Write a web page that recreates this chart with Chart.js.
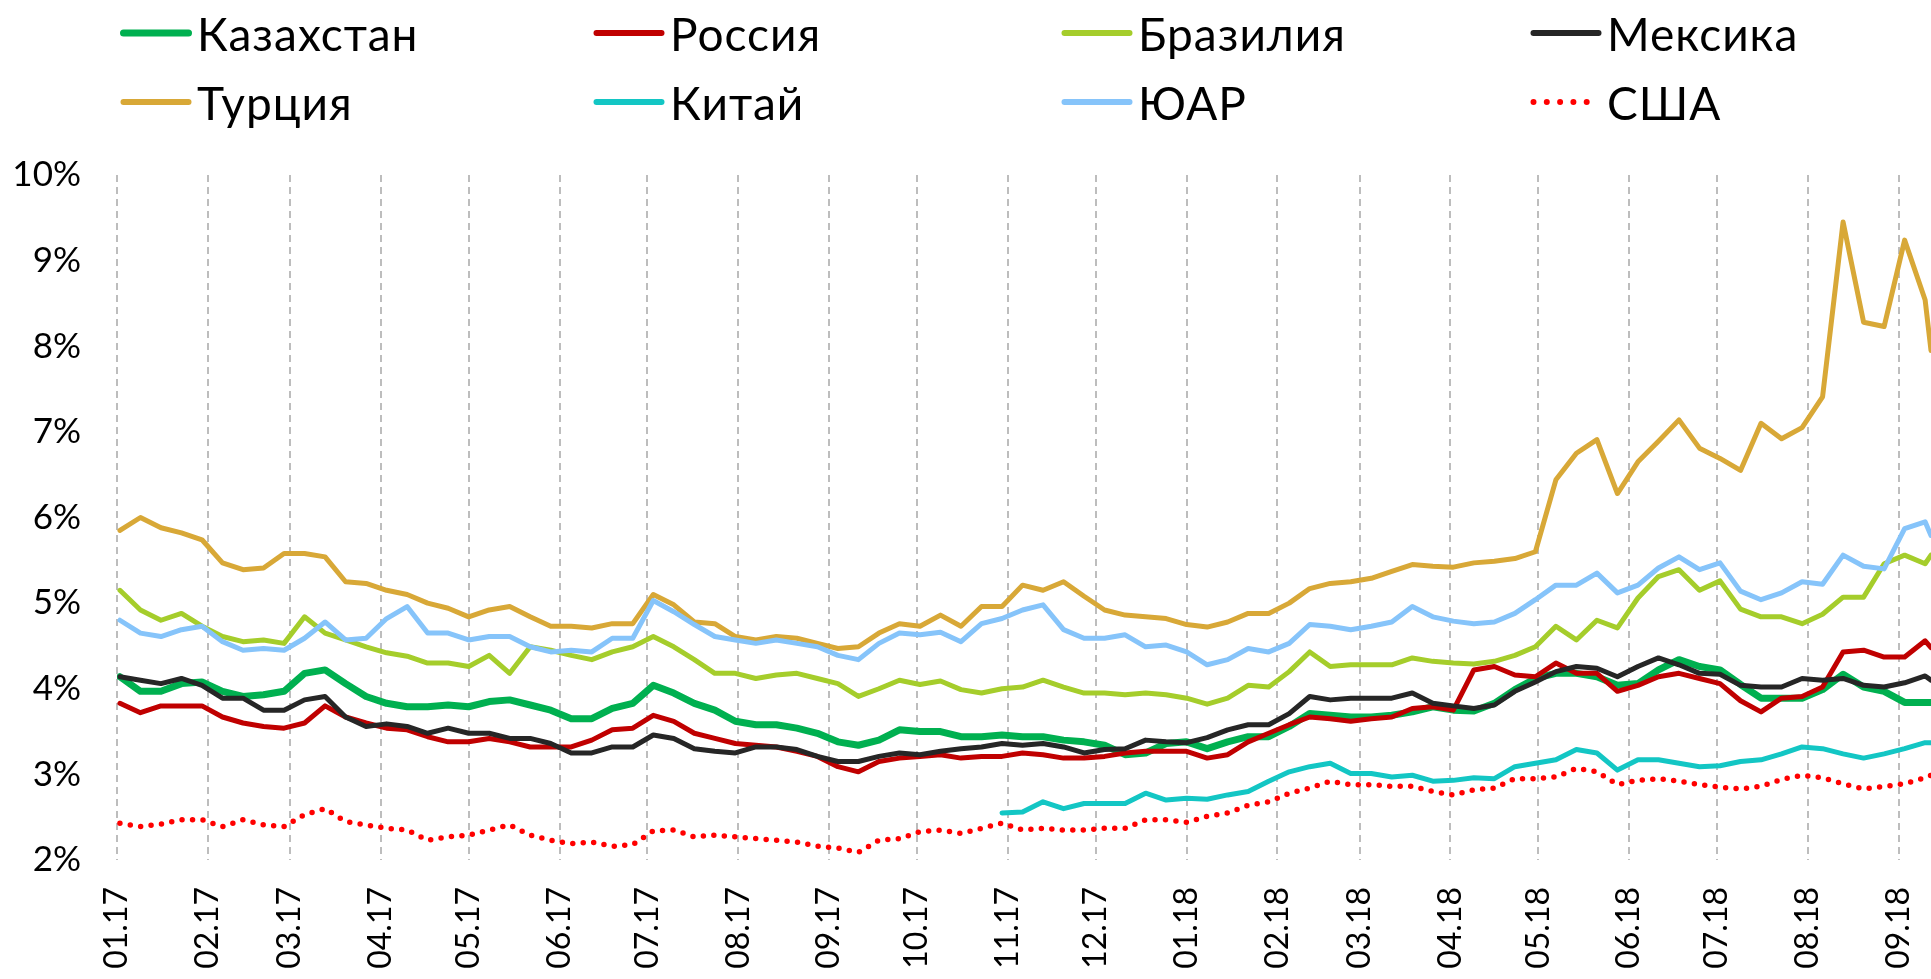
<!DOCTYPE html>
<html>
<head>
<meta charset="utf-8">
<script src="https://cdn.jsdelivr.net/npm/chart.js@4.4.0/dist/chart.umd.min.js"></script>
<style>
    html, body { margin: 0; padding: 0; background: #fff; }
    #wrap { position: relative; width: 1931px; height: 979px; overflow: hidden; }
    #chart { position: absolute; left: 0; top: 0; }
    .item {
        position: absolute; display: flex; align-items: center; height: 60px;
        font-family: Lato, 'Open Sans', sans-serif; font-size: 46px; color: #000;
        letter-spacing: 1px; white-space: nowrap; }
    .item svg { margin-right: 5px; flex: none; }
</style>
</head>
<body>
<div id="wrap">
    <canvas id="chart" width="1931" height="979"></canvas>
    <div id="legend"></div>
</div>
<script>

// Weekly readings, % (Jan 2017 - Sep 2018)

var dates = [
    '2017-01-02','2017-01-09','2017-01-16','2017-01-23','2017-01-30',
    '2017-02-06','2017-02-13','2017-02-20','2017-02-27',
    '2017-03-06','2017-03-13','2017-03-20','2017-03-27',
    '2017-04-03','2017-04-10','2017-04-17','2017-04-24',
    '2017-05-01','2017-05-08','2017-05-15','2017-05-22','2017-05-29',
    '2017-06-05','2017-06-12','2017-06-19','2017-06-26',
    '2017-07-03','2017-07-10','2017-07-17','2017-07-24','2017-07-31',
    '2017-08-07','2017-08-14','2017-08-21','2017-08-28',
    '2017-09-04','2017-09-11','2017-09-18','2017-09-25',
    '2017-10-02','2017-10-09','2017-10-16','2017-10-23','2017-10-30',
    '2017-11-06','2017-11-13','2017-11-20','2017-11-27',
    '2017-12-04','2017-12-11','2017-12-18','2017-12-25',
    '2018-01-01','2018-01-08','2018-01-15','2018-01-22','2018-01-29',
    '2018-02-05','2018-02-12','2018-02-19','2018-02-26',
    '2018-03-05','2018-03-12','2018-03-19','2018-03-26',
    '2018-04-02','2018-04-09','2018-04-16','2018-04-23','2018-04-30',
    '2018-05-07','2018-05-14','2018-05-21','2018-05-28',
    '2018-06-04','2018-06-11','2018-06-18','2018-06-25',
    '2018-07-02','2018-07-09','2018-07-16','2018-07-23','2018-07-30',
    '2018-08-06','2018-08-13','2018-08-20','2018-08-27',
    '2018-09-03','2018-09-10','2018-09-12'];

var kazakhstan = [
    4.14, 3.97, 3.97, 4.06, 4.08, 3.97, 3.91, 3.93, 3.97, 4.18, 4.22, 4.06, 3.91, 3.83,
    3.79, 3.79, 3.81, 3.79, 3.85, 3.87, 3.81, 3.75, 3.65, 3.65, 3.77, 3.83, 4.04,
    3.95, 3.83, 3.75, 3.62, 3.58, 3.58, 3.54, 3.48, 3.38, 3.34, 3.40, 3.52, 3.50, 3.50,
    3.44, 3.44, 3.46, 3.44, 3.44, 3.40, 3.38, 3.34, 3.23, 3.25, 3.36, 3.38, 3.30,
    3.38, 3.44, 3.44, 3.56, 3.71, 3.69, 3.67, 3.67, 3.69, 3.73, 3.79, 3.75, 3.74,
    3.83, 3.99, 4.12, 4.18, 4.18, 4.14, 4.04, 4.06, 4.22, 4.34, 4.26, 4.22, 4.05,
    3.89, 3.89, 3.89, 3.99, 4.17, 4.02, 3.97, 3.84, 3.84, 3.84];

var russia = [
    3.83, 3.72, 3.80, 3.80, 3.80, 3.67, 3.60, 3.56, 3.54, 3.60, 3.80, 3.67, 3.60, 3.54,
    3.52, 3.44, 3.38, 3.38, 3.42, 3.38, 3.32, 3.32, 3.32, 3.40, 3.52, 3.54, 3.69,
    3.62, 3.48, 3.42, 3.36, 3.34, 3.32, 3.27, 3.21, 3.09, 3.03, 3.15, 3.19, 3.21, 3.23,
    3.19, 3.21, 3.21, 3.25, 3.23, 3.19, 3.19, 3.21, 3.25, 3.27, 3.27, 3.27, 3.19,
    3.23, 3.38, 3.48, 3.58, 3.67, 3.65, 3.62, 3.65, 3.67, 3.77, 3.79, 3.75, 4.22,
    4.26, 4.16, 4.14, 4.30, 4.18, 4.18, 3.97, 4.04, 4.14, 4.18, 4.12, 4.06, 3.86,
    3.73, 3.89, 3.91, 4.02, 4.43, 4.45, 4.37, 4.37, 4.56, 4.48];

var brazil = [
    5.15, 4.92, 4.80, 4.88, 4.73, 4.61, 4.55, 4.57, 4.53, 4.84, 4.65, 4.57, 4.49, 4.42,
    4.38, 4.30, 4.30, 4.26, 4.39, 4.18, 4.49, 4.45, 4.39, 4.34, 4.43, 4.49, 4.61,
    4.49, 4.34, 4.18, 4.18, 4.12, 4.16, 4.18, 4.12, 4.06, 3.91, 4.00, 4.10, 4.05, 4.09,
    3.99, 3.95, 4.00, 4.02, 4.10, 4.02, 3.95, 3.95, 3.93, 3.95, 3.93, 3.89, 3.82,
    3.89, 4.04, 4.02, 4.20, 4.43, 4.26, 4.28, 4.28, 4.28, 4.36, 4.32, 4.30, 4.29,
    4.32, 4.39, 4.49, 4.73, 4.57, 4.80, 4.71, 5.06, 5.31, 5.39, 5.15, 5.26, 4.93,
    4.84, 4.84, 4.76, 4.87, 5.07, 5.07, 5.46, 5.56, 5.46, 5.56];

var mexico = [
    4.14, 4.10, 4.06, 4.12, 4.04, 3.89, 3.89, 3.75, 3.75, 3.87, 3.91, 3.67, 3.56, 3.59,
    3.56, 3.48, 3.54, 3.48, 3.48, 3.42, 3.42, 3.36, 3.25, 3.25, 3.32, 3.32, 3.46,
    3.42, 3.30, 3.27, 3.25, 3.32, 3.32, 3.29, 3.21, 3.15, 3.15, 3.21, 3.25, 3.23, 3.27,
    3.30, 3.32, 3.36, 3.34, 3.36, 3.32, 3.25, 3.29, 3.30, 3.40, 3.38, 3.37, 3.43,
    3.52, 3.58, 3.58, 3.71, 3.91, 3.87, 3.89, 3.89, 3.89, 3.95, 3.83, 3.80, 3.77,
    3.81, 3.97, 4.08, 4.20, 4.26, 4.24, 4.14, 4.26, 4.36, 4.28, 4.18, 4.17, 4.04,
    4.02, 4.02, 4.12, 4.10, 4.12, 4.04, 4.02, 4.07, 4.15, 4.10];

var turkey = [
    5.85, 6.00, 5.88, 5.82, 5.74, 5.47, 5.39, 5.41, 5.58, 5.58, 5.54, 5.25, 5.23, 5.15,
    5.10, 5.00, 4.94, 4.84, 4.92, 4.96, 4.84, 4.73, 4.73, 4.71, 4.76, 4.76, 5.10,
    4.98, 4.78, 4.76, 4.61, 4.57, 4.61, 4.59, 4.53, 4.47, 4.49, 4.65, 4.76, 4.73, 4.86,
    4.73, 4.96, 4.96, 5.21, 5.15, 5.25, 5.08, 4.92, 4.86, 4.84, 4.82, 4.75, 4.72,
    4.78, 4.88, 4.88, 5.00, 5.17, 5.23, 5.25, 5.29, 5.37, 5.45, 5.43, 5.42, 5.47,
    5.49, 5.52, 5.60, 6.44, 6.75, 6.91, 6.28, 6.65, 6.89, 7.14, 6.81, 6.69, 6.55,
    7.10, 6.92, 7.05, 7.41, 9.45, 8.28, 8.23, 9.24, 8.54, 7.95];

var china = [
    null, null, null, null, null, null, null, null, null, null, null, null, null, null,
    null, null, null, null, null, null, null, null, null, null, null, null, null,
    null, null, null, null, null, null, null, null, null, null, null, null, null, null,
    null, null, 2.55, 2.56, 2.68, 2.60, 2.66, 2.66, 2.66, 2.78, 2.70, 2.72, 2.71,
    2.76, 2.80, 2.92, 3.03, 3.09, 3.13, 3.01, 3.01, 2.97, 2.99, 2.92, 2.93, 2.96,
    2.95, 3.09, 3.13, 3.17, 3.29, 3.25, 3.05, 3.17, 3.17, 3.13, 3.09, 3.10, 3.15,
    3.17, 3.24, 3.32, 3.30, 3.24, 3.19, 3.24, 3.30, 3.37, 3.37];

var south_africa = [
    4.80, 4.65, 4.61, 4.69, 4.73, 4.55, 4.45, 4.47, 4.45, 4.59, 4.78, 4.57, 4.59, 4.82,
    4.96, 4.65, 4.65, 4.57, 4.61, 4.61, 4.49, 4.43, 4.45, 4.43, 4.59, 4.59, 5.03,
    4.90, 4.75, 4.61, 4.57, 4.53, 4.57, 4.53, 4.49, 4.39, 4.34, 4.53, 4.65, 4.63, 4.66,
    4.55, 4.76, 4.82, 4.92, 4.98, 4.69, 4.59, 4.59, 4.63, 4.49, 4.51, 4.43, 4.28,
    4.34, 4.47, 4.43, 4.53, 4.75, 4.73, 4.69, 4.73, 4.78, 4.96, 4.84, 4.79, 4.76,
    4.78, 4.88, 5.04, 5.21, 5.21, 5.35, 5.12, 5.21, 5.41, 5.54, 5.39, 5.47, 5.14,
    5.04, 5.12, 5.25, 5.22, 5.56, 5.43, 5.40, 5.87, 5.95, 5.79];

var usa = [
    2.43, 2.39, 2.42, 2.47, 2.47, 2.39, 2.47, 2.41, 2.39, 2.53, 2.60, 2.45, 2.41, 2.37,
    2.35, 2.23, 2.27, 2.29, 2.35, 2.41, 2.29, 2.23, 2.19, 2.21, 2.16, 2.18, 2.34,
    2.35, 2.27, 2.29, 2.27, 2.25, 2.23, 2.21, 2.16, 2.14, 2.09, 2.23, 2.25, 2.33, 2.35,
    2.31, 2.37, 2.43, 2.35, 2.37, 2.35, 2.35, 2.37, 2.37, 2.47, 2.47, 2.44, 2.51,
    2.55, 2.64, 2.68, 2.78, 2.84, 2.92, 2.88, 2.88, 2.86, 2.86, 2.80, 2.76, 2.82,
    2.84, 2.95, 2.95, 2.97, 3.07, 3.03, 2.88, 2.93, 2.95, 2.92, 2.88, 2.85, 2.83,
    2.86, 2.94, 2.99, 2.96, 2.89, 2.83, 2.86, 2.89, 2.96, 2.99];

var names = ['Казахстан', 'Россия', 'Бразилия', 'Мексика',
             'Турция', 'Китай', 'ЮАР', 'США'];
var values = [kazakhstan, russia, brazil, mexico, turkey, china, south_africa, usa];
var colors = ['#00b050', '#c00000', '#a5cd2b', '#262626',
              '#d8a837', '#13c6c4', '#86c4fa', '#ff0000'];

var x_tick_labels = [
    '01.17', '02.17', '03.17', '04.17', '05.17', '06.17', '07.17', '08.17', '09.17',
    '10.17', '11.17', '12.17', '01.18', '02.18', '03.18', '04.18', '05.18', '06.18',
    '07.18', '08.18', '09.18'];



// days since 01.01.2017

var t0 = Date.UTC(2017, 0, 1);

function day_of(iso) {
    var p = iso.split('-');
    return (Date.UTC(+p[0], p[1] - 1, +p[2]) - t0) / 86400000;}

var tick_days = x_tick_labels.map(function(s) {
    var p = s.split('.');
    return (Date.UTC(2000 + (+p[1]), p[0] - 1, 1) - t0) / 86400000;});

var x_days = dates.map(day_of);



// Legend (html, 4 columns)

var legend_pos = [
    [120, 3], [593, 3], [1061, 3], [1530, 3],
    [120, 72], [593, 72], [1061, 72], [1530, 72]];

var legend = document.getElementById('legend');

for (var i = 0; i < names.length; i++) {
    var item = document.createElement('div');
    item.className = 'item';
    item.style.left = legend_pos[i][0] + 'px';
    item.style.top = legend_pos[i][1] + 'px';

    var w = (i == 0) ? 7 : 6;
    var dash = (i == 7) ? ' stroke-dasharray="0 13.3"' : '';
    item.innerHTML =
        '<svg width="72" height="12"><line x1="3.5" y1="6" x2="' + (i == 7 ? 70 : 68.5) +
        '" y2="6" stroke="' + colors[i] + '" stroke-width="' + w +
        '" stroke-linecap="round"' + dash + '/></svg><span>' + names[i] + '</span>';
    legend.appendChild(item);
}



// Chart

Chart.defaults.font.family = "Lato, 'Open Sans', sans-serif";
Chart.defaults.font.size = 35;
Chart.defaults.color = '#000';

var datasets = [];

for (var s = 0; s < names.length; s++) {
    var pts = [];
    for (var k = 0; k < x_days.length; k++) {
        pts.push({x: x_days[k], y: values[s][k]});}

    var ds = {
        label: names[s],
        data: pts,
        borderColor: colors[s],
        backgroundColor: colors[s],
        borderWidth: (s == 0) ? 7 : 5,
        order: names.length - s,
        spanGaps: false,};

    if (s == 7) {
        ds.borderWidth = 5.5;
        ds.borderDash = [0, 10.5];
        ds.borderCapStyle = 'round';}

    datasets.push(ds);
}

var ctx = document.getElementById('chart').getContext('2d');

var chart_object = new Chart(ctx, {
    type: 'line',

    data: {datasets: datasets,},

    options: {
        responsive: false,
        animation: false,
        devicePixelRatio: 1,
        layout: {padding: {top: 175, right: 0, bottom: 0, left: 0},},

        elements: {
            point: {radius: 0,},
            line: {tension: 0, borderJoinStyle: 'round', borderCapStyle: 'round',},},

        scales: {
            x: {
                type: 'linear',
                min: 0,
                max: x_days[x_days.length - 1],
                afterBuildTicks: function(scale) {
                    scale.ticks = tick_days.map(function(v) { return {value: v}; });},
                afterFit: function(scale) {
                    scale.height = 119;
                    scale.paddingLeft = 0;
                    scale.paddingRight = 0;},
                ticks: {
                    autoSkip: false,
                    minRotation: 90,
                    maxRotation: 90,
                    padding: 27,
                    font: {size: 32,},
                    callback: function(v, i) { return x_tick_labels[i]; },},
                grid: {color: '#bdbdbd', lineWidth: 2, drawTicks: false,},
                border: {display: false, dash: [7, 5],},},
            y: {
                min: 2,
                max: 10,
                afterFit: function(scale) { scale.width = 117; },
                ticks: {
                    stepSize: 1,
                    padding: 28,
                    font: {size: 35,},
                    callback: function(v) { return v + '%'; },},
                grid: {display: false,},
                border: {display: false,},},
        },

        plugins: {
            legend: {display: false,},
            tooltip: {enabled: false,},},
    },});

</script>
</body>
</html>
